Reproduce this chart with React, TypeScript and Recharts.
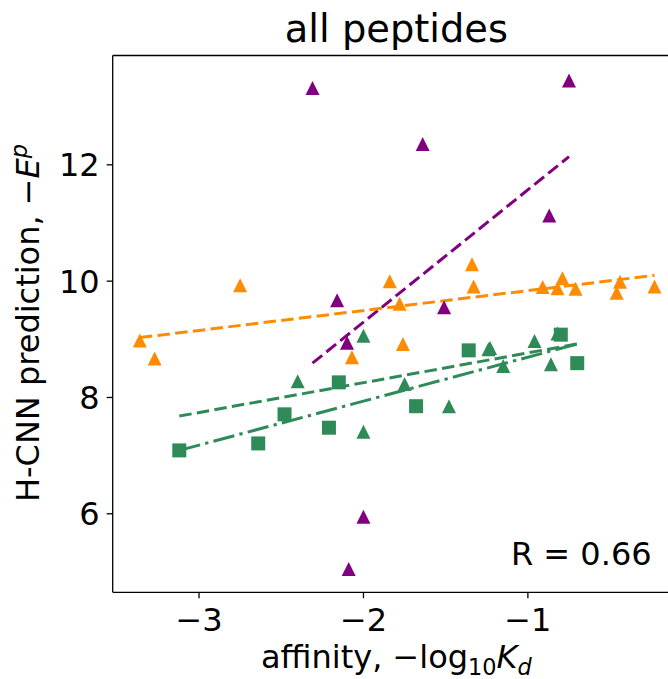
import { ReferenceLine, Scatter, ScatterChart, XAxis, YAxis } from "recharts";

// purple: triangles
const purpleX = [-2.31, -0.75, -1.64, -0.87, -2.16, -1.51, -2.1, -2.0, -2.09];
const purpleY = [13.32, 13.45, 12.36, 11.13, 9.67, 9.55, 8.94, 5.95, 5.05];

// orange: triangles
const orangeX = [-3.36, -3.27, -2.75, -2.07, -1.84, -1.78, -1.76, -1.34, -1.33, -0.91, -0.82, -0.79, -0.71, -0.46, -0.44, -0.23];
const orangeY = [8.98, 8.67, 9.93, 8.69, 10.0, 9.61, 8.92, 10.29, 9.91, 9.9, 9.88, 10.05, 9.87, 9.8, 9.99, 9.91];

// green: triangles and squares
const greenTriX = [-2.4, -2.0, -1.75, -1.48, -1.24, -1.23, -1.15, -0.96, -0.86, -0.82, -2.0];
const greenTriY = [8.28, 9.06, 8.23, 7.85, 8.83, 8.85, 8.54, 8.97, 8.57, 9.1, 7.41];
const greenSqX = [-3.12, -2.64, -2.48, -2.21, -2.15, -1.68, -1.36, -0.8, -0.7];
const greenSqY = [7.09, 7.21, 7.71, 7.48, 8.26, 7.85, 8.81, 9.08, 8.59];

// regression lines, end points
const purpleFitX = [-2.31, -0.75];
const purpleFitY = [8.59, 12.14];
const orangeFitX = [-3.36, -0.23];
const orangeFitY = [9.03, 10.1];
const greenFitX = [-3.12, -0.7];
const greenFitY = [7.68, 8.92];
const greenSqFitX = [-3.12, -0.7];
const greenSqFitY = [7.09, 8.92];

const xTicks = [-3, -2, -1];
const yTicks = [6, 8, 10, 12];
const X_DOMAIN: [number, number] = [-3.525, -0.075];
const Y_DOMAIN: [number, number] = [4.65, 13.88];

const PURPLE = "#800080";
const ORANGE = "#ff8c00";
const GREEN = "#2e8b57";
const FONT = "DejaVu Sans, sans-serif";
const FS = 32;

const pts = (xs: number[], ys: number[]) => xs.map((x, i) => ({ x, y: ys[i] }));

const tri = (color: string) => (p: any) => {
  const s = 7;
  return (
    <polygon
      points={`${p.cx},${p.cy - s} ${p.cx - s},${p.cy + s} ${p.cx + s},${p.cy + s}`}
      fill={color}
    />
  );
};

const square = (color: string) => (p: any) => {
  const s = 7;
  return <rect x={p.cx - s} y={p.cy - s} width={2 * s} height={2 * s} fill={color} />;
};

function XTick(props: any) {
  const { x, y, payload } = props;
  return (
    <text x={x} y={y + 33} textAnchor="middle" fontSize={FS} fontFamily={FONT} fill="#000">
      {"\u2212" + Math.abs(payload.value)}
    </text>
  );
}

function YTick(props: any) {
  const { x, y, payload } = props;
  return (
    <text x={x} y={y} dy="0.36em" textAnchor="end" fontSize={FS} fontFamily={FONT} fill="#000">
      {payload.value}
    </text>
  );
}

function fit(xs: number[], ys: number[], color: string, dash: string) {
  return (
    <ReferenceLine
      segment={[
        { x: xs[0], y: ys[0] },
        { x: xs[1], y: ys[1] },
      ]}
      stroke={color}
      strokeWidth={3}
      strokeDasharray={dash}
    />
  );
}

export default function App() {
  return (
    <div
      style={{
        position: "absolute",
        left: 0,
        top: 0,
        width: 668,
        height: 679,
        overflow: "hidden",
        background: "#fff",
      }}
    >
      <ScatterChart
        width={700}
        height={679}
        margin={{ top: 55.5, right: 20, bottom: 26.7, left: 12.7 }}
      >
        <XAxis
          type="number"
          dataKey="x"
          domain={X_DOMAIN}
          ticks={xTicks}
          allowDataOverflow
          height={60}
          tickSize={6}
          tickMargin={0}
          axisLine={{ stroke: "#000", strokeWidth: 1.3 }}
          tickLine={{ stroke: "#000", strokeWidth: 1.3 }}
          tick={<XTick />}
        />
        <YAxis
          type="number"
          dataKey="y"
          domain={Y_DOMAIN}
          ticks={yTicks}
          allowDataOverflow
          width={100}
          tickSize={6}
          tickMargin={7}
          axisLine={{ stroke: "#000", strokeWidth: 1.3 }}
          tickLine={{ stroke: "#000", strokeWidth: 1.3 }}
          tick={<YTick />}
        />
        <ReferenceLine y={Y_DOMAIN[1]} stroke="#000" strokeWidth={1.3} />
        <ReferenceLine x={X_DOMAIN[1]} stroke="#000" strokeWidth={1.3} />
        <Scatter data={pts(purpleX, purpleY)} shape={tri(PURPLE)} isAnimationActive={false} />
        <Scatter data={pts(orangeX, orangeY)} shape={tri(ORANGE)} isAnimationActive={false} />
        <Scatter data={pts(greenTriX, greenTriY)} shape={tri(GREEN)} isAnimationActive={false} />
        <Scatter data={pts(greenSqX, greenSqY)} shape={square(GREEN)} isAnimationActive={false} />
        {fit(purpleFitX, purpleFitY, PURPLE, "12.5 5.3")}
        {fit(orangeFitX, orangeFitY, ORANGE, "12.5 5.3")}
        {fit(greenFitX, greenFitY, GREEN, "12.5 5.3")}
        {fit(greenSqFitX, greenSqFitY, GREEN, "21.5 5.3 3.3 5.3")}
      </ScatterChart>
      <svg
        width={668}
        height={679}
        style={{ position: "absolute", left: 0, top: 0, pointerEvents: "none" }}
        fontFamily={FONT}
      >
        <text x={396.4} y={42} textAnchor="middle" fontSize={38.4} fill="#000">
          all peptides
        </text>
        <text x={396.4} y={668} textAnchor="middle" fontSize={FS} fill="#000">
          affinity, {"\u2212"}log
          <tspan fontSize={22.4} dy={7}>10</tspan>
          <tspan fontStyle="italic" fontSize={FS} dy={-7}>K</tspan>
          <tspan fontStyle="italic" fontSize={22.4} dy={7}>d</tspan>
        </text>
        <text
          transform="translate(38.5, 323) rotate(-90)"
          textAnchor="middle"
          fontSize={FS}
          fill="#000"
        >
          H-CNN prediction, {"\u2212"}
          <tspan fontStyle="italic">E</tspan>
          <tspan fontStyle="italic" fontSize={22.4} dy={-12}>p</tspan>
        </text>
        <text x={651.6} y={565} textAnchor="end" fontSize={FS} fill="#000">
          R = 0.66
        </text>
      </svg>
    </div>
  );
}
